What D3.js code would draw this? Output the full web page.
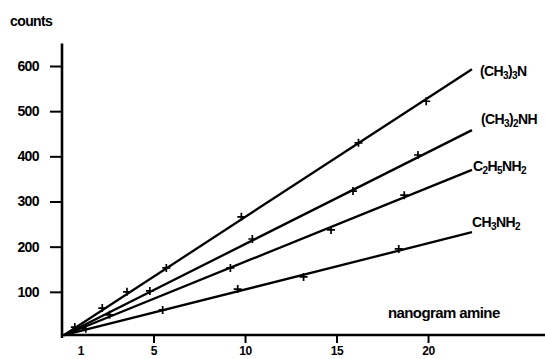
<!DOCTYPE html>
<html><head><meta charset="utf-8">
<script src="https://cdn.jsdelivr.net/npm/d3@7/dist/d3.min.js"></script>
<style>
body{margin:0;background:#fff;}
svg{display:block;}
text{font-family:"Liberation Sans",Arial,sans-serif;font-weight:bold;fill:#000;}
</style></head>
<body>
<svg id="c" width="545" height="359"></svg>
<script>
// ---- data ----
const seriesNames = ["(CH3)3N", "(CH3)2NH", "C2H5NH2", "CH3NH2"];
// measured points (nanogram, counts)
const tmaX  = [0.7, 2.2, 3.55, 5.7, 9.8, 16.2, 19.9];
const tmaY  = [22, 64, 100, 153, 266, 430, 522];
const dmaX  = [4.8, 10.4, 15.9, 19.45];
const dmaY  = [102, 217, 323, 403];
const eaX   = [2.6, 9.2, 14.7, 18.7];
const eaY   = [49, 153, 237, 314];
const mmaX  = [1.3, 5.5, 9.6, 13.2, 18.4];
const mmaY  = [18, 60, 106, 133, 195];
// calibration lines (start, end)
const fitX    = [0.1, 22.4];
const tmaFit  = [4, 593];
const dmaFit  = [4, 458];
const eaFit   = [4, 370];
const mmaFit  = [4, 232];
// axes
const yTicks = [100, 200, 300, 400, 500, 600];
const xTicks = [1, 5, 10, 15, 20];
const yTitle = "counts";
const xTitle = "nanogram amine";

const series = [
  {name: seriesNames[0], x: tmaX, y: tmaY, fit: tmaFit, parts: [["(CH",0],["3",1],[")",0],["3",1],["N",0]], off:[8,7]},
  {name: seriesNames[1], x: dmaX, y: dmaY, fit: dmaFit, parts: [["(CH",0],["3",1],[")",0],["2",1],["NH",0]], off:[9,-6]},
  {name: seriesNames[2], x: eaX, y: eaY, fit: eaFit, parts: [["C",0],["2",1],["H",0],["5",1],["NH",0],["2",1]], off:[1,1]},
  {name: seriesNames[3], x: mmaX, y: mmaY, fit: mmaFit, parts: [["CH",0],["3",1],["NH",0],["2",1]], off:[0,-5]}
];

const svg = d3.select("#c");
const x = d3.scaleLinear().domain([0, 26.5]).range([62, 547]);
const y = d3.scaleLinear().domain([0, 600]).range([337, 66]);

// y axis
const yAxis = d3.axisLeft(y).tickValues(yTicks).tickSize(12).tickSizeOuter(0).tickPadding(11);
const gy = svg.append("g").attr("transform", `translate(${x(0)},0)`).call(yAxis);
gy.select(".domain").remove();
gy.selectAll(".tick line").attr("stroke", "#000").attr("stroke-width", 2);
gy.selectAll(".tick text").style("font-size", "14px").style("letter-spacing", "-0.6px");
svg.append("line").attr("x1", x(0)).attr("x2", x(0)).attr("y1", y(0) + 1).attr("y2", y(650))
  .attr("stroke", "#000").attr("stroke-width", 2.6);

// x axis
const axisY = y(0) - 2;
const xAxis = d3.axisBottom(x).tickValues(xTicks).tickSize(8).tickSizeOuter(0);
const gx = svg.append("g").attr("transform", `translate(0,${axisY})`).call(xAxis);
gx.select(".domain").remove();
gx.selectAll(".tick line").attr("stroke", "#000").attr("stroke-width", 2)
  .attr("display", d => d === 1 ? "none" : null);
gx.selectAll(".tick text").attr("y", 355 - axisY).attr("dy", 0)
  .style("font-size", "12px").style("letter-spacing", "-0.4px");
svg.append("line").attr("x1", x(0) - 1).attr("x2", x(26.5)).attr("y1", axisY).attr("y2", axisY)
  .attr("stroke", "#000").attr("stroke-width", 2.6);

// titles
svg.append("text").attr("x", 10).attr("y", 26).style("font-size", "14px").style("letter-spacing", "-0.6px").text(yTitle);
svg.append("text").attr("x", 388).attr("y", 318).style("font-size", "15px").style("letter-spacing", "-0.6px").text(xTitle);

// lines, markers and labels
const line = d3.line().x(d => x(d[0])).y(d => y(d[1]));
series.forEach(s => {
  svg.append("path").datum(fitX.map((v, i) => [v, s.fit[i]]))
    .attr("d", line).attr("fill", "none").attr("stroke", "#000").attr("stroke-width", 2.3);
  const pts = s.x.map((v, i) => [v, s.y[i]]);
  const m = svg.append("g");
  m.selectAll("path").data(pts).join("path")
    .attr("d", d => { const px = x(d[0]), py = y(d[1]), r = 4;
      return `M${px - r},${py}H${px + r}M${px},${py - r}V${py + r}`; })
    .attr("stroke", "#000").attr("stroke-width", 1.7).attr("fill", "none");
  const ex = x(fitX[1]), ey = y(s.fit[1]);
  const t = svg.append("text").attr("x", ex + s.off[0]).attr("y", ey + s.off[1])
    .style("font-size", "14px").style("letter-spacing", "-0.6px");
  s.parts.forEach(p => {
    if (p[1]) t.append("tspan").attr("dy", 3).style("font-size", "10px").text(p[0]);
    else t.append("tspan").attr("dy", p === s.parts[0] ? 0 : -3).style("font-size", "14px").text(p[0]);
  });
});
</script>
</body></html>
